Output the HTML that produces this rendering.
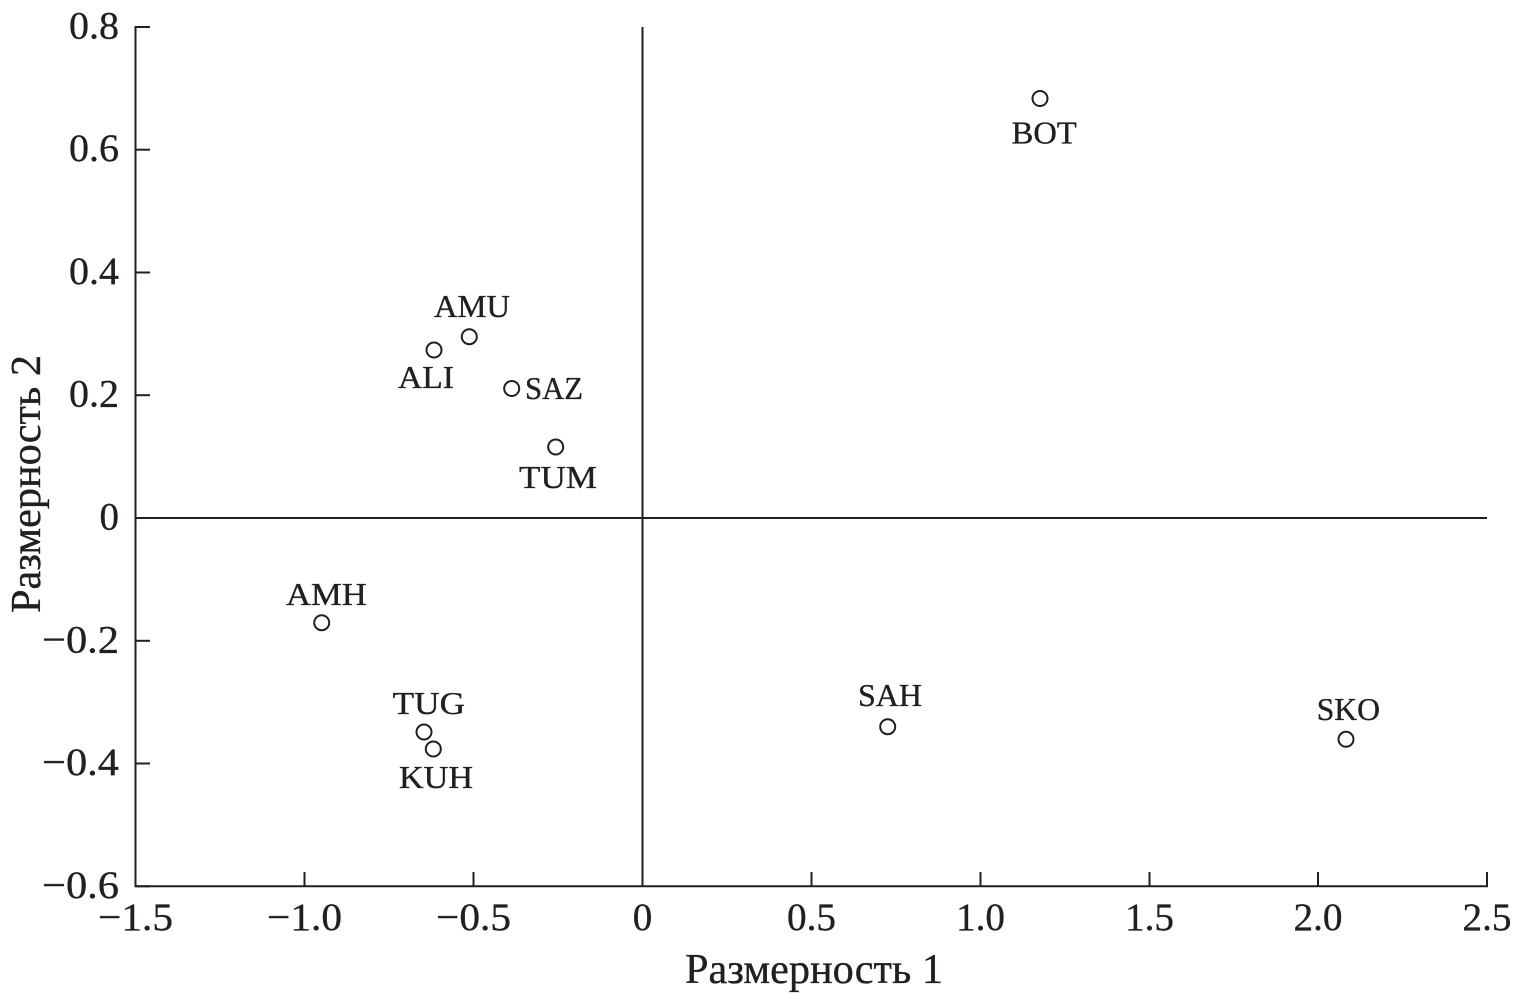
<!DOCTYPE html>
<html>
<head>
<meta charset="utf-8">
<style>
  html, body { margin: 0; padding: 0; background: #ffffff; }
  svg { display: block; }
  text { font-family: "Liberation Serif", "DejaVu Serif", serif; fill: #231f20; stroke: #231f20; stroke-width: 0.35; }
</style>
</head>
<body>
<svg width="1517" height="995" viewBox="0 0 1517 995" xmlns="http://www.w3.org/2000/svg">
  <g stroke="#231f20" stroke-width="2" fill="none">
    <!-- left axis -->
    <line x1="135.5" y1="26" x2="135.5" y2="887"/>
    <!-- bottom axis -->
    <line x1="134.5" y1="886.3" x2="1488" y2="886.3"/>
    <!-- zero lines -->
    <line x1="135.5" y1="518" x2="1487" y2="518"/>
    <line x1="642.5" y1="27" x2="642.5" y2="886"/>
    <!-- y ticks -->
    <line x1="135.5" y1="27" x2="150" y2="27"/>
    <line x1="135.5" y1="149.7" x2="150" y2="149.7"/>
    <line x1="135.5" y1="272.5" x2="150" y2="272.5"/>
    <line x1="135.5" y1="395.2" x2="150" y2="395.2"/>
    <line x1="135.5" y1="518" x2="150" y2="518"/>
    <line x1="135.5" y1="640.8" x2="150" y2="640.8"/>
    <line x1="135.5" y1="763.5" x2="150" y2="763.5"/>
    <line x1="135.5" y1="886.3" x2="150" y2="886.3"/>
    <!-- x ticks -->
    <line x1="135.5" y1="872" x2="135.5" y2="886.3"/>
    <line x1="304.5" y1="872" x2="304.5" y2="886.3"/>
    <line x1="473.5" y1="872" x2="473.5" y2="886.3"/>
    <line x1="642.5" y1="872" x2="642.5" y2="886.3"/>
    <line x1="811.5" y1="872" x2="811.5" y2="886.3"/>
    <line x1="980.5" y1="872" x2="980.5" y2="886.3"/>
    <line x1="1149.5" y1="872" x2="1149.5" y2="886.3"/>
    <line x1="1318" y1="872" x2="1318" y2="886.3"/>
    <line x1="1487" y1="872" x2="1487" y2="886.3"/>
  </g>

  <!-- y tick labels -->
  <g font-size="39" text-anchor="end">
    <text x="119" y="38.5" textLength="50" lengthAdjust="spacingAndGlyphs">0.8</text>
    <text x="119" y="161.2" textLength="50" lengthAdjust="spacingAndGlyphs">0.6</text>
    <text x="119" y="284" textLength="50" lengthAdjust="spacingAndGlyphs">0.4</text>
    <text x="119" y="406.7" textLength="50" lengthAdjust="spacingAndGlyphs">0.2</text>
    <text x="119" y="529.5">0</text>
    <text x="119" y="652.3" textLength="77" lengthAdjust="spacingAndGlyphs">−0.2</text>
    <text x="119" y="775" textLength="77" lengthAdjust="spacingAndGlyphs">−0.4</text>
    <text x="119" y="897.8" textLength="77" lengthAdjust="spacingAndGlyphs">−0.6</text>
  </g>

  <!-- x tick labels -->
  <g font-size="39" text-anchor="middle">
    <text x="135.5" y="930" textLength="75" lengthAdjust="spacingAndGlyphs">−1.5</text>
    <text x="304.5" y="930" textLength="75" lengthAdjust="spacingAndGlyphs">−1.0</text>
    <text x="473.5" y="930" textLength="75" lengthAdjust="spacingAndGlyphs">−0.5</text>
    <text x="642.5" y="930">0</text>
    <text x="811.5" y="930" textLength="49" lengthAdjust="spacingAndGlyphs">0.5</text>
    <text x="980.5" y="930" textLength="49" lengthAdjust="spacingAndGlyphs">1.0</text>
    <text x="1149.5" y="930" textLength="49" lengthAdjust="spacingAndGlyphs">1.5</text>
    <text x="1318" y="930" textLength="49" lengthAdjust="spacingAndGlyphs">2.0</text>
    <text x="1487" y="930" textLength="49" lengthAdjust="spacingAndGlyphs">2.5</text>
  </g>

  <!-- axis titles -->
  <text x="685" y="983" font-size="42" textLength="258" lengthAdjust="spacingAndGlyphs">Размерность 1</text>
  <text transform="translate(40,613) rotate(-90)" x="0" y="0" font-size="42" textLength="258" lengthAdjust="spacingAndGlyphs">Размерность 2</text>

  <!-- points -->
  <g stroke="#231f20" stroke-width="2" fill="none">
    <circle cx="469.3" cy="336.7" r="7.5"/>
    <circle cx="434" cy="350" r="7.5"/>
    <circle cx="511.7" cy="388.5" r="7.5"/>
    <circle cx="555.7" cy="447" r="7.5"/>
    <circle cx="1040" cy="98.5" r="7.5"/>
    <circle cx="321.7" cy="622.7" r="7.5"/>
    <circle cx="424" cy="732" r="7.5"/>
    <circle cx="433.3" cy="749" r="7.5"/>
    <circle cx="887.7" cy="726.7" r="7.5"/>
    <circle cx="1346" cy="739.3" r="7.5"/>
  </g>

  <!-- point labels -->
  <g font-size="32">
    <text x="434" y="317" textLength="76" lengthAdjust="spacingAndGlyphs">AMU</text>
    <text x="398" y="388" textLength="56" lengthAdjust="spacingAndGlyphs">ALI</text>
    <text x="525" y="399" textLength="58" lengthAdjust="spacingAndGlyphs">SAZ</text>
    <text x="519" y="488" textLength="78" lengthAdjust="spacingAndGlyphs">TUM</text>
    <text x="1011.7" y="143.3" textLength="65" lengthAdjust="spacingAndGlyphs">BOT</text>
    <text x="286" y="605" textLength="80.7" lengthAdjust="spacingAndGlyphs">AMH</text>
    <text x="392.7" y="714" textLength="72.3" lengthAdjust="spacingAndGlyphs">TUG</text>
    <text x="399" y="788" textLength="74" lengthAdjust="spacingAndGlyphs">KUH</text>
    <text x="858" y="706" textLength="64" lengthAdjust="spacingAndGlyphs">SAH</text>
    <text x="1316.7" y="720" textLength="63.3" lengthAdjust="spacingAndGlyphs">SKO</text>
  </g>
</svg>
</body>
</html>
